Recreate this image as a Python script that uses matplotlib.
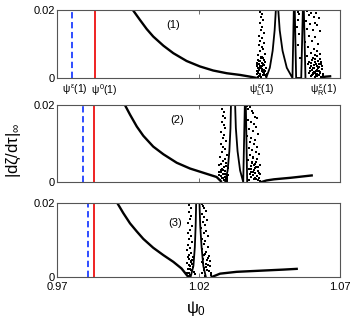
import matplotlib
matplotlib.use("Agg")
import matplotlib.pyplot as plt

plt.rcParams['font.family'] = ['Liberation Sans', 'DejaVu Sans']
plt.rcParams['mathtext.fontset'] = 'custom'
plt.rcParams['mathtext.rm'] = 'Liberation Sans'
plt.rcParams['mathtext.it'] = 'Liberation Sans'
plt.rcParams['mathtext.bf'] = 'Liberation Sans:bold'

# ---------------- data ----------------
xlim = (0.97, 1.07)
xticks = [0.97, 1.02, 1.07]
xticklabels = ['0.97', '1.02', '1.07']
yticks = [0, 0.02]
yticklabels = ['0', '0.02']

psi_eps = [0.9754, 0.9791, 0.9808]   # blue dashed
psi_0 = [0.9834, 0.9831, 0.9831]     # red solid

# decaying branch
dec1_x = [0.9968, 0.9993, 1.0017, 1.0040, 1.0076, 1.0111, 1.0158, 1.0205, 1.0252,
          1.0300, 1.0347, 1.0382, 1.0406]
dec1_y = [0.0200, 0.0171, 0.0144, 0.0122, 0.0095, 0.0073, 0.0050, 0.0034, 0.0022,
          0.0014, 0.0009, 0.0004, 0.0000]
dec2_x = [0.9940, 0.9958, 0.9982, 1.0005, 1.0040, 1.0076, 1.0123, 1.0170, 1.0217,
          1.0264, 1.0282]
dec2_y = [0.0200, 0.0175, 0.0144, 0.0120, 0.0092, 0.0072, 0.0050, 0.0035, 0.0024,
          0.0013, 0.0000]
dec3_x = [0.9913, 0.9934, 0.9958, 0.9982, 1.0005, 1.0040, 1.0076, 1.0111, 1.0140, 1.0164]
dec3_y = [0.0200, 0.0173, 0.0145, 0.0123, 0.0103, 0.0079, 0.0059, 0.0041, 0.0023, 0.0000]

# resonance peaks (branches, clipped at the top of each panel)
peak1_x = [1.0439, 1.0452, 1.0462, 1.0469, 1.0474, 1.0481, 1.0487, 1.0497, 1.0512, 1.0532,
           1.0537, 1.0540, 1.0545, 1.0563, 1.0569, 1.0572, 1.0578]
peak1_y = [0.0, 0.003, 0.008, 0.014, 0.021, 0.021, 0.014, 0.008, 0.003, 0.0,
           0.021, 0.021, 0.0, 0.0, 0.021, 0.021, 0.0]
peak2_x = [1.0294, 1.0303, 1.0309, 1.0313, 1.0315, 1.0329, 1.0332, 1.0338, 1.0347, 1.0358,
           1.0364, 1.0367, 1.0372]
peak2_y = [0.0, 0.003, 0.008, 0.014, 0.021, 0.021, 0.014, 0.008, 0.003, 0.0,
           0.021, 0.021, 0.0]
peak3_x = [1.0172, 1.0182, 1.0187, 1.0190, 1.0192, 1.0203, 1.0206, 1.0211, 1.0217, 1.0226]
peak3_y = [0.0, 0.003, 0.008, 0.014, 0.021, 0.021, 0.014, 0.008, 0.003, 0.0]

# recovering tails
tail1_x = [1.0635, 1.0650, 1.0665]
tail1_y = [0.0002, 0.0004, 0.0005]
tail2_x = [1.0423, 1.0440, 1.0467, 1.0526, 1.0600]
tail2_y = [0.0000, 0.0004, 0.0007, 0.0011, 0.0017]
tail3_x = [1.0247, 1.0276, 1.0335, 1.0417, 1.0500, 1.0547]
tail3_y = [0.0000, 0.0009, 0.0014, 0.0017, 0.0020, 0.0022]

# scattered (chaotic) points
dots1_x = [1.0418, 1.0425, 1.0421, 1.0428, 1.0416, 1.0424, 1.0420, 1.0430, 1.0415, 1.0426,
           1.0419, 1.0432, 1.0413, 1.0423, 1.0429, 1.0417, 1.0434, 1.0411, 1.0422, 1.0427,
           1.0409, 1.0418, 1.0436, 1.0424, 1.0413, 1.0430, 1.0407, 1.0420, 1.0438, 1.0415,
           1.0426, 1.0410, 1.0433, 1.0419, 1.0406, 1.0428, 1.0414, 1.0440, 1.0422, 1.0411,
           1.0408, 1.0416, 1.0425, 1.0432, 1.0412, 1.0436, 1.0421, 1.0443, 1.0405, 1.0429,
           1.0410, 1.0417, 1.0423, 1.0431, 1.0414, 1.0427, 1.0419, 1.0434, 1.0408, 1.0425,
           1.0550, 1.0556, 1.0583, 1.0590, 1.0598, 1.0607, 1.0615, 1.0625, 1.0553, 1.0580,
           1.0594, 1.0610, 1.0620, 1.0548, 1.0585, 1.0603, 1.0628, 1.0555, 1.0592, 1.0612,
           1.0600, 1.0578, 1.0622, 1.0551, 1.0588, 1.0608, 1.0617, 1.0596, 1.0630, 1.0582,
           1.0557, 1.0604, 1.0613, 1.0624, 1.0591, 1.0599, 1.0633, 1.0586, 1.0609, 1.0619,
           1.0627, 1.0595, 1.0636, 1.0602, 1.0614, 1.0622, 1.0631, 1.0589, 1.0606, 1.0618,
           1.0626, 1.0639, 1.0598, 1.0611, 1.0634, 1.0620, 1.0628, 1.0605, 1.0615, 1.0593,
           1.0640, 1.0624, 1.0601, 1.0610, 1.0619, 1.0629, 1.0597, 1.0607, 1.0616, 1.0625,
           1.0603, 1.0612, 1.0621, 1.0632, 1.0600, 1.0609, 1.0618, 1.0627, 1.0637, 1.0613]
dots1_y = [0.0195, 0.0188, 0.0178, 0.0170, 0.0162, 0.0150, 0.0141, 0.0133, 0.0125, 0.0118,
           0.0110, 0.0103, 0.0097, 0.0090, 0.0084, 0.0078, 0.0072, 0.0068, 0.0063, 0.0058,
           0.0054, 0.0050, 0.0047, 0.0044, 0.0040, 0.0037, 0.0034, 0.0031, 0.0028, 0.0025,
           0.0022, 0.0019, 0.0016, 0.0013, 0.0011, 0.0009, 0.0006, 0.0005, 0.0003, 0.0002,
           0.0045, 0.0036, 0.0027, 0.0052, 0.0029, 0.0020, 0.0058, 0.0012, 0.0022, 0.0041,
           0.0015, 0.0008, 0.0035, 0.0024, 0.0049, 0.0017, 0.0030, 0.0010, 0.0039, 0.0062,
           0.0195, 0.0188, 0.0197, 0.0185, 0.0192, 0.0180, 0.0190, 0.0175, 0.0172, 0.0168,
           0.0160, 0.0163, 0.0155, 0.0150, 0.0145, 0.0140, 0.0138, 0.0130, 0.0125, 0.0120,
           0.0110, 0.0105, 0.0100, 0.0098, 0.0090, 0.0085, 0.0080, 0.0075, 0.0070, 0.0065,
           0.0060, 0.0058, 0.0055, 0.0050, 0.0048, 0.0045, 0.0042, 0.0040, 0.0038, 0.0035,
           0.0032, 0.0030, 0.0027, 0.0025, 0.0022, 0.0020, 0.0018, 0.0016, 0.0014, 0.0012,
           0.0010, 0.0008, 0.0006, 0.0004, 0.0003, 0.0006, 0.0015, 0.0028, 0.0042, 0.0022,
           0.0012, 0.0028, 0.0052, 0.0047, 0.0064, 0.0055, 0.0036, 0.0019, 0.0009, 0.0040,
           0.0011, 0.0068, 0.0033, 0.0046, 0.0008, 0.0030, 0.0025, 0.0021, 0.0034, 0.0016]

dots2_x = [1.0284, 1.0290, 1.0287, 1.0293, 1.0282, 1.0289, 1.0295, 1.0280, 1.0291, 1.0286,
           1.0298, 1.0278, 1.0288, 1.0294, 1.0283, 1.0300, 1.0276, 1.0292, 1.0285, 1.0297,
           1.0273, 1.0289, 1.0303, 1.0281, 1.0295, 1.0271, 1.0287, 1.0306, 1.0279, 1.0292,
           1.0284, 1.0298, 1.0275, 1.0290, 1.0301, 1.0282, 1.0278, 1.0286, 1.0294, 1.0299,
           1.0280, 1.0288, 1.0296, 1.0274, 1.0285, 1.0302,
           1.0371, 1.0376, 1.0382, 1.0389, 1.0394, 1.0401, 1.0407, 1.0374, 1.0385, 1.0397,
           1.0404, 1.0379, 1.0391, 1.0410, 1.0372, 1.0386, 1.0399, 1.0381, 1.0395, 1.0406,
           1.0377, 1.0388, 1.0402, 1.0413, 1.0383, 1.0393, 1.0408, 1.0375, 1.0390, 1.0398,
           1.0416, 1.0385, 1.0403, 1.0380, 1.0396, 1.0411, 1.0387, 1.0400, 1.0419, 1.0392,
           1.0405, 1.0384, 1.0414, 1.0397, 1.0409, 1.0378, 1.0417, 1.0401, 1.0389, 1.0394,
           1.0403, 1.0412, 1.0383, 1.0391, 1.0408, 1.0399, 1.0386, 1.0414, 1.0395, 1.0404]
dots2_y = [0.0190, 0.0182, 0.0172, 0.0165, 0.0156, 0.0148, 0.0140, 0.0131, 0.0123, 0.0115,
           0.0107, 0.0099, 0.0092, 0.0085, 0.0078, 0.0071, 0.0065, 0.0059, 0.0054, 0.0049,
           0.0044, 0.0040, 0.0036, 0.0032, 0.0028, 0.0025, 0.0022, 0.0019, 0.0016, 0.0013,
           0.0010, 0.0008, 0.0006, 0.0004, 0.0003, 0.0035, 0.0047, 0.0030, 0.0021, 0.0014,
           0.0026, 0.0011, 0.0041, 0.0018, 0.0055, 0.0009,
           0.0198, 0.0190, 0.0196, 0.0185, 0.0178, 0.0170, 0.0165, 0.0160, 0.0155, 0.0150,
           0.0142, 0.0138, 0.0132, 0.0125, 0.0120, 0.0115, 0.0110, 0.0104, 0.0098, 0.0092,
           0.0088, 0.0083, 0.0078, 0.0073, 0.0069, 0.0064, 0.0060, 0.0056, 0.0052, 0.0048,
           0.0045, 0.0042, 0.0038, 0.0035, 0.0032, 0.0029, 0.0026, 0.0023, 0.0020, 0.0017,
           0.0015, 0.0012, 0.0010, 0.0008, 0.0006, 0.0004, 0.0003, 0.0036, 0.0049, 0.0027,
           0.0053, 0.0039, 0.0021, 0.0063, 0.0016, 0.0011, 0.0033, 0.0024, 0.0044, 0.0007]

dots3_x = [1.0168, 1.0172, 1.0166, 1.0174, 1.0170, 1.0164, 1.0176, 1.0169, 1.0162, 1.0173,
           1.0167, 1.0178, 1.0163, 1.0171, 1.0160, 1.0175, 1.0168, 1.0180, 1.0165, 1.0172,
           1.0159, 1.0177, 1.0169, 1.0182, 1.0163, 1.0174, 1.0184, 1.0161, 1.0171, 1.0166,
           1.0176, 1.0162, 1.0170, 1.0179, 1.0165, 1.0173, 1.0186, 1.0168,
           1.0212, 1.0216, 1.0221, 1.0226, 1.0213, 1.0219, 1.0230, 1.0215, 1.0223, 1.0210,
           1.0228, 1.0218, 1.0233, 1.0212, 1.0224, 1.0220, 1.0235, 1.0214, 1.0227, 1.0222,
           1.0238, 1.0217, 1.0231, 1.0211, 1.0225, 1.0240, 1.0219, 1.0229, 1.0236, 1.0213,
           1.0243, 1.0223, 1.0232, 1.0216, 1.0226, 1.0239, 1.0221, 1.0234, 1.0245, 1.0218]
dots3_y = [0.0195, 0.0186, 0.0176, 0.0166, 0.0156, 0.0147, 0.0138, 0.0128, 0.0119, 0.0111,
           0.0102, 0.0094, 0.0086, 0.0079, 0.0072, 0.0065, 0.0059, 0.0053, 0.0048, 0.0043,
           0.0038, 0.0034, 0.0030, 0.0026, 0.0022, 0.0018, 0.0014, 0.0010, 0.0006, 0.0032,
           0.0046, 0.0055, 0.0021, 0.0027, 0.0012, 0.0040, 0.0008, 0.0003,
           0.0198, 0.0192, 0.0186, 0.0178, 0.0170, 0.0163, 0.0155, 0.0148, 0.0140, 0.0133,
           0.0125, 0.0118, 0.0110, 0.0103, 0.0096, 0.0089, 0.0082, 0.0075, 0.0068, 0.0062,
           0.0056, 0.0050, 0.0045, 0.0040, 0.0035, 0.0030, 0.0025, 0.0020, 0.0015, 0.0010,
           0.0006, 0.0003, 0.0052, 0.0038, 0.0028, 0.0044, 0.0018, 0.0033, 0.0012, 0.0060]

panel_labels = ['(1)', '(2)', '(3)']
panel_label_pos = [(1.0110, 0.0156), (1.0123, 0.0161), (1.0117, 0.0146)]

top_labels = [r'$\psi^{\varepsilon}(1)$', r'$\psi^{0}(1)$',
              r'$\psi^{\varepsilon}_{L}(1)$', r'$\psi^{\varepsilon}_{R}(1)$']
top_label_x = [0.9808, 0.9819, 1.0423, 1.0643]
top_label_ha = ['right', 'left', 'center', 'center']

# ---------------- figure ----------------
W, H = 354, 327
fig = plt.figure(figsize=(W / 100, H / 100), dpi=100)

boxes = [(57, 10, 340, 78), (57, 105, 340, 182), (57, 203, 340, 277)]
decs = [(dec1_x, dec1_y), (dec2_x, dec2_y), (dec3_x, dec3_y)]
peaks = [(peak1_x, peak1_y), (peak2_x, peak2_y), (peak3_x, peak3_y)]
tails = [(tail1_x, tail1_y), (tail2_x, tail2_y), (tail3_x, tail3_y)]
dots = [(dots1_x, dots1_y), (dots2_x, dots2_y), (dots3_x, dots3_y)]

frame_col = '#555555'
axes = []
for i, (l, t, r, b) in enumerate(boxes):
    ax = fig.add_axes([l / W, 1 - b / H, (r - l) / W, (b - t) / H])
    axes.append(ax)
    ax.set_xlim(*xlim)
    ax.set_ylim(0, 0.02)
    ax.axvline(psi_eps[i], color='#1f3fff', ls=(0, (3.5, 2)), lw=1.3)
    ax.axvline(psi_0[i], color='#ee1111', lw=1.3)
    ax.plot(*decs[i], color='black', lw=1.7, solid_capstyle='butt', solid_joinstyle='round')
    ax.plot(*peaks[i], color='black', lw=1.3)
    ax.plot(*tails[i], color='black', lw=1.7)
    ax.plot(*dots[i], ls='none', marker='s', ms=1.5, color='black', mew=0)
    ax.text(*panel_label_pos[i], panel_labels[i], fontsize=8, ha='center', va='center')
    ax.set_xticks(xticks)
    ax.set_yticks(yticks)
    ax.set_yticklabels(yticklabels, fontsize=8)
    ax.tick_params(direction='in', length=3, width=0.6, color=frame_col,
                   top=True, right=False, pad=1.5)
    ax.tick_params(axis='x', pad=3.5)
    for s in ax.spines.values():
        s.set_color(frame_col)
        s.set_linewidth(0.8)
    if i == 2:
        ax.set_xticklabels(xticklabels, fontsize=8)
    else:
        ax.set_xticklabels([])

for lab, x, ha in zip(top_labels, top_label_x, top_label_ha):
    axes[0].text(x, -0.0013, lab, fontsize=7.5, ha=ha, va='top')

fig.text(14 / W, 1 - 150 / H, r'$|\mathrm{d}\zeta/\mathrm{d}\tau|_{\infty}$',
         rotation=90, fontsize=12, ha='center', va='center')
fig.text(196 / W, 1 - 308 / H, r'$\psi_0$', fontsize=12, ha='center', va='center')

fig.savefig('out.png', dpi=100)
